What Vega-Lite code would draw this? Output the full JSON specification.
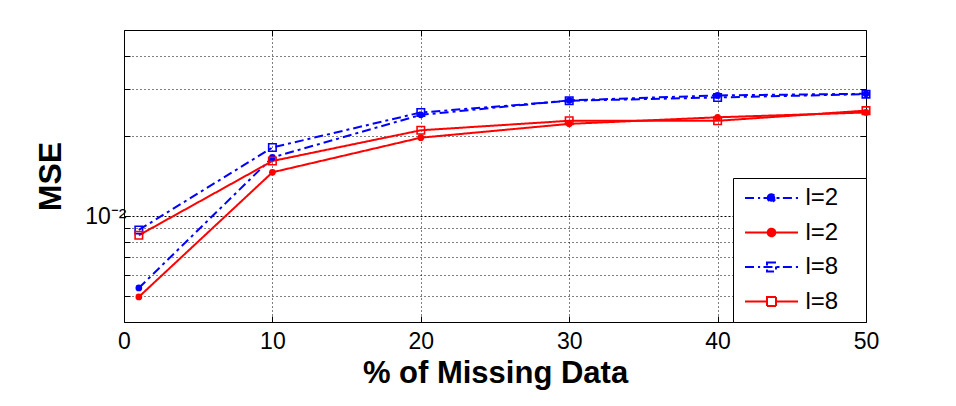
{
  "$schema": "https://vega.github.io/schema/vega-lite/v6.json",
  "width": 742,
  "height": 292,
  "autosize": {"type": "none"},
  "padding": {"left": 124, "top": 30, "right": 90, "bottom": 84},
  "background": "white",
  "config": {
    "view": {"stroke": "black", "strokeWidth": 1},
    "font": "Liberation Sans",
    "axis": {
      "labelFont": "Liberation Sans",
      "labelFontSize": 23,
      "labelColor": "black",
      "titleFont": "Liberation Sans",
      "titleColor": "black",
      "titleFontWeight": "bold",
      "domainColor": "black",
      "tickColor": "black",
      "tickSize": -6,
      "gridColor": "black",
      "gridOpacity": 1,
      "gridDash": [1, 3],
      "gridWidth": 1
    }
  },
  "data": {
    "values": [
      {"series": "s1", "missing": 1, "mse": 0.00537},
      {"series": "s1", "missing": 10, "mse": 0.0166},
      {"series": "s1", "missing": 20, "mse": 0.0240},
      {"series": "s1", "missing": 30, "mse": 0.0272},
      {"series": "s1", "missing": 40, "mse": 0.0284},
      {"series": "s1", "missing": 50, "mse": 0.0288},
      {"series": "s2", "missing": 1, "mse": 0.00497},
      {"series": "s2", "missing": 10, "mse": 0.0146},
      {"series": "s2", "missing": 20, "mse": 0.0197},
      {"series": "s2", "missing": 30, "mse": 0.0222},
      {"series": "s2", "missing": 40, "mse": 0.0235},
      {"series": "s2", "missing": 50, "mse": 0.0245},
      {"series": "s3", "missing": 1, "mse": 0.00887},
      {"series": "s3", "missing": 10, "mse": 0.0181},
      {"series": "s3", "missing": 20, "mse": 0.0245},
      {"series": "s3", "missing": 30, "mse": 0.0271},
      {"series": "s3", "missing": 40, "mse": 0.0279},
      {"series": "s3", "missing": 50, "mse": 0.0287},
      {"series": "s4", "missing": 1, "mse": 0.00847},
      {"series": "s4", "missing": 10, "mse": 0.0161},
      {"series": "s4", "missing": 20, "mse": 0.0210},
      {"series": "s4", "missing": 30, "mse": 0.0228},
      {"series": "s4", "missing": 40, "mse": 0.0228},
      {"series": "s4", "missing": 50, "mse": 0.0249}
    ]
  },
  "resolve": {"axis": {"x": "independent", "y": "independent"}},
  "encoding": {
    "x": {
      "field": "missing",
      "type": "quantitative",
      "scale": {"domain": [0, 50], "nice": false},
      "axis": {
        "values": [0, 10, 20, 30, 40, 50],
        "title": "% of Missing Data",
        "titleFontSize": 31,
        "titleBaseline": "alphabetic",
        "titleY": 60,
        "labelPadding": 14,
        "labelFlush": false
      }
    },
    "y": {
      "field": "mse",
      "type": "quantitative",
      "scale": {"type": "log", "domain": [0.004, 0.05], "nice": false},
      "axis": {
        "values": [0.005, 0.006, 0.007, 0.008, 0.009, 0.01, 0.02, 0.03, 0.04],
        "labelExpr": "datum.value === 0.01 ? '10⁻²' : ''",
        "labelBaseline": "middle",
        "labelPadding": 4,
        "gridDash": {"condition": {"test": "datum.value === 0.01", "value": [2, 2]}, "value": [1, 3]},
        "title": "MSE",
        "titleFontSize": 32,
        "titleBaseline": "alphabetic",
        "titleX": -64
      }
    },
    "color": {
      "field": "series",
      "type": "nominal",
      "scale": {"domain": ["s1", "s2", "s3", "s4"], "range": ["#0000ff", "#ff0000", "#0000ff", "#ff0000"]},
      "legend": null
    }
  },
  "layer": [
    {
      "mark": {"type": "line", "strokeWidth": 2},
      "encoding": {
        "strokeDash": {
          "field": "series",
          "type": "nominal",
          "scale": {"domain": ["s1", "s2", "s3", "s4"], "range": [[9, 4, 3, 4], [1, 0], [9, 4, 3, 4], [1, 0]]},
          "legend": null
        },
        "color": {
          "field": "series",
          "type": "nominal",
          "legend": {
            "title": null,
            "orient": "bottom-right",
            "offset": 0,
            "strokeColor": "black",
            "fillColor": "white",
            "padding": 8,
            "rowPadding": 10.5,
            "symbolSize": 100,
            "symbolStrokeWidth": 2,
            "symbolOffset": 18.5,
            "labelFont": "Liberation Sans",
            "labelFontSize": 24,
            "labelColor": "black",
            "labelOffset": 22,
            "labelExpr": "(datum.value === 's1' || datum.value === 's2') ? 'l=2' : 'l=8'",
            "encode": {
              "symbols": {
                "update": {
                  "shape": {"signal": "datum.value === 's1' ? 'M-5.3,0H-3.29M-2.7,0H-2.28M-1.6,0H1.6M2.28,0H4.35M4.88,0H5.3M-0.76,0A0.76,0.76,0,1,1,0.76,0A0.76,0.76,0,1,1,-0.76,0ZM16.5,0h0' : datum.value === 's2' ? 'M-5.3,0H5.3M-0.76,0A0.76,0.76,0,1,1,0.76,0A0.76,0.76,0,1,1,-0.76,0ZM16.5,0h0' : datum.value === 's3' ? 'M-5.3,0H-3.29M-2.7,0H-2.28M-1.6,0H1.6M2.28,0H4.35M4.88,0H5.3M-0.9,-0.9H0.9V0.9H-0.9ZM16.5,0h0' : 'M-5.3,0H-0.9M0.9,0H5.3M-0.9,-0.9H0.9V0.9H-0.9ZM16.5,0h0'"},
                  "fill": {"signal": "datum.value === 's1' ? '#0000ff' : datum.value === 's2' ? '#ff0000' : 'white'"},
                  "fillOpacity": {"signal": "(datum.value === 's1' || datum.value === 's2') ? 1 : 0"},
                  "opacity": {"value": 1}
                }
              }
            }
          }
        }
      }
    },
    {
      "transform": [{"filter": "datum.series === 's1' || datum.series === 's2'"}],
      "mark": {"type": "point", "shape": "circle", "filled": true, "size": 45, "opacity": 1},
      "encoding": {
        "x": {"field": "missing", "type": "quantitative", "axis": null},
        "y": {"field": "mse", "type": "quantitative", "axis": null}
      }
    },
    {
      "transform": [{"filter": "datum.series === 's3' || datum.series === 's4'"}],
      "mark": {"type": "point", "shape": "square", "filled": false, "size": 56, "strokeWidth": 1.6, "opacity": 1},
      "encoding": {
        "x": {
          "field": "missing",
          "type": "quantitative",
          "axis": {"orient": "top", "values": [10, 20, 30, 40], "labels": false, "title": null, "grid": false, "domain": false}
        },
        "y": {
          "field": "mse",
          "type": "quantitative",
          "axis": {"orient": "right", "values": [0.005, 0.006, 0.007, 0.008, 0.009, 0.01, 0.02, 0.03, 0.04], "labels": false, "title": null, "grid": false, "domain": false}
        }
      }
    }
  ]
}
